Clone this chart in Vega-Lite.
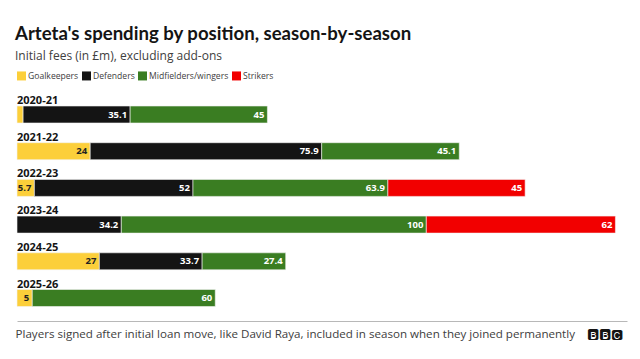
{
  "$schema": "https://vega.github.io/schema/vega-lite/v6.json",
  "width": 610,
  "height": 233,
  "autosize": {"type": "none"},
  "padding": {"left": 17, "top": 88, "right": 13, "bottom": 38},
  "background": "white",
  "title": {
    "text": "Arteta's spending by position, season-by-season",
    "subtitle": "Initial fees (in £m), excluding add-ons",
    "anchor": "start",
    "frame": "group",
    "dx": -2,
    "font": "Lato",
    "fontSize": 18.6,
    "fontWeight": "bold",
    "color": "#141414",
    "subtitleFont": "Open Sans",
    "subtitleFontSize": 12,
    "subtitleColor": "#404040",
    "subtitlePadding": 7,
    "offset": 9
  },
  "config": {"view": {"stroke": null}},
  "data": {
    "values": [
      {"season": "2020-21", "position": "Goalkeepers", "value": 2},
      {"season": "2020-21", "position": "Defenders", "value": 35.1},
      {"season": "2020-21", "position": "Midfielders/wingers", "value": 45},
      {"season": "2021-22", "position": "Goalkeepers", "value": 24},
      {"season": "2021-22", "position": "Defenders", "value": 75.9},
      {"season": "2021-22", "position": "Midfielders/wingers", "value": 45.1},
      {"season": "2022-23", "position": "Goalkeepers", "value": 5.7},
      {"season": "2022-23", "position": "Defenders", "value": 52},
      {"season": "2022-23", "position": "Midfielders/wingers", "value": 63.9},
      {"season": "2022-23", "position": "Strikers", "value": 45},
      {"season": "2023-24", "position": "Defenders", "value": 34.2},
      {"season": "2023-24", "position": "Midfielders/wingers", "value": 100},
      {"season": "2023-24", "position": "Strikers", "value": 62},
      {"season": "2024-25", "position": "Goalkeepers", "value": 27},
      {"season": "2024-25", "position": "Defenders", "value": 33.7},
      {"season": "2024-25", "position": "Midfielders/wingers", "value": 27.4},
      {"season": "2025-26", "position": "Goalkeepers", "value": 5},
      {"season": "2025-26", "position": "Midfielders/wingers", "value": 60}
    ]
  },
  "transform": [
    {"calculate": "indexof(['Goalkeepers','Defenders','Midfielders/wingers','Strikers'], datum.position)", "as": "ord"},
    {"stack": "value", "groupby": ["season"], "sort": [{"field": "ord"}], "as": ["x0", "x1"]}
  ],
  "encoding": {
    "y": {
      "field": "season",
      "type": "nominal",
      "scale": {"type": "band", "paddingInner": 0.5368, "paddingOuter": 0.443, "align": 0.554},
      "axis": null
    }
  },
  "layer": [
    {
      "mark": {"type": "bar", "stroke": "#f4f4f4", "strokeWidth": 0.6},
      "encoding": {
        "x": {
          "field": "x0",
          "type": "quantitative",
          "scale": {"domain": [0, 200], "nice": false, "zero": true},
          "axis": {
            "values": [0, 198.4],
            "labelExpr": "datum.value == 0 ? 'Players signed after initial loan move, like David Raya, included in season when they joined permanently' : '🅱🅱🅲'",
            "title": null,
            "ticks": false,
            "grid": false,
            "domain": true,
            "domainColor": "#b8b8b8",
            "domainWidth": 1,
            "labelAlign": {"condition": {"test": "datum.value == 0", "value": "left"}, "value": "right"},
            "labelFont": {"condition": {"test": "datum.value == 0", "value": "Open Sans"}, "value": "DejaVu Sans"},
            "labelFontSize": {"condition": {"test": "datum.value == 0", "value": 11.6}, "value": 12.5},
            "labelColor": {"condition": {"test": "datum.value == 0", "value": "#404040"}, "value": "#141414"},
            "labelOffset": {"condition": {"test": "datum.value == 0", "value": -2}, "value": 0},
            "labelBaseline": "middle",
            "labelPadding": 13,
            "labelLimit": 1000,
            "labelOverlap": false,
            "labelFlush": false,
            "labelBound": false
          }
        },
        "x2": {"field": "x1"},
        "color": {
          "field": "position",
          "type": "nominal",
          "scale": {
            "domain": ["Goalkeepers", "Defenders", "Midfielders/wingers", "Strikers"],
            "range": ["#FCCF3A", "#141414", "#3A7D22", "#F20000"]
          },
          "legend": {
            "orient": "top",
            "direction": "horizontal",
            "title": null,
            "symbolType": "square",
            "symbolSize": 81,
            "symbolStrokeWidth": 0,
            "labelFont": "Open Sans",
            "labelFontSize": 8.6,
            "labelColor": "#404040",
            "labelOffset": 2,
            "columnPadding": 3,
            "offset": 7,
            "padding": 0
          }
        }
      }
    },
    {
      "transform": [{"filter": "datum.value >= 4"}],
      "mark": {"type": "text", "align": "right", "dx": -3, "baseline": "middle", "fontSize": 9.5, "fontWeight": "bold", "font": "Open Sans"},
      "encoding": {
        "x": {"field": "x1", "type": "quantitative"},
        "text": {"field": "value", "type": "quantitative"},
        "color": {"condition": {"test": "datum.position === 'Goalkeepers'", "value": "#222222"}, "value": "white"}
      }
    },
    {
      "transform": [{"aggregate": [{"op": "count", "as": "n"}], "groupby": ["season"]}],
      "mark": {"type": "text", "align": "left", "baseline": "alphabetic", "dy": -2, "fontSize": 11, "fontWeight": "bold", "font": "Open Sans", "color": "#141414"},
      "encoding": {
        "x": {"datum": 0, "type": "quantitative"},
        "y": {"field": "season", "type": "nominal", "bandPosition": 0},
        "text": {"field": "season"}
      }
    }
  ]
}
